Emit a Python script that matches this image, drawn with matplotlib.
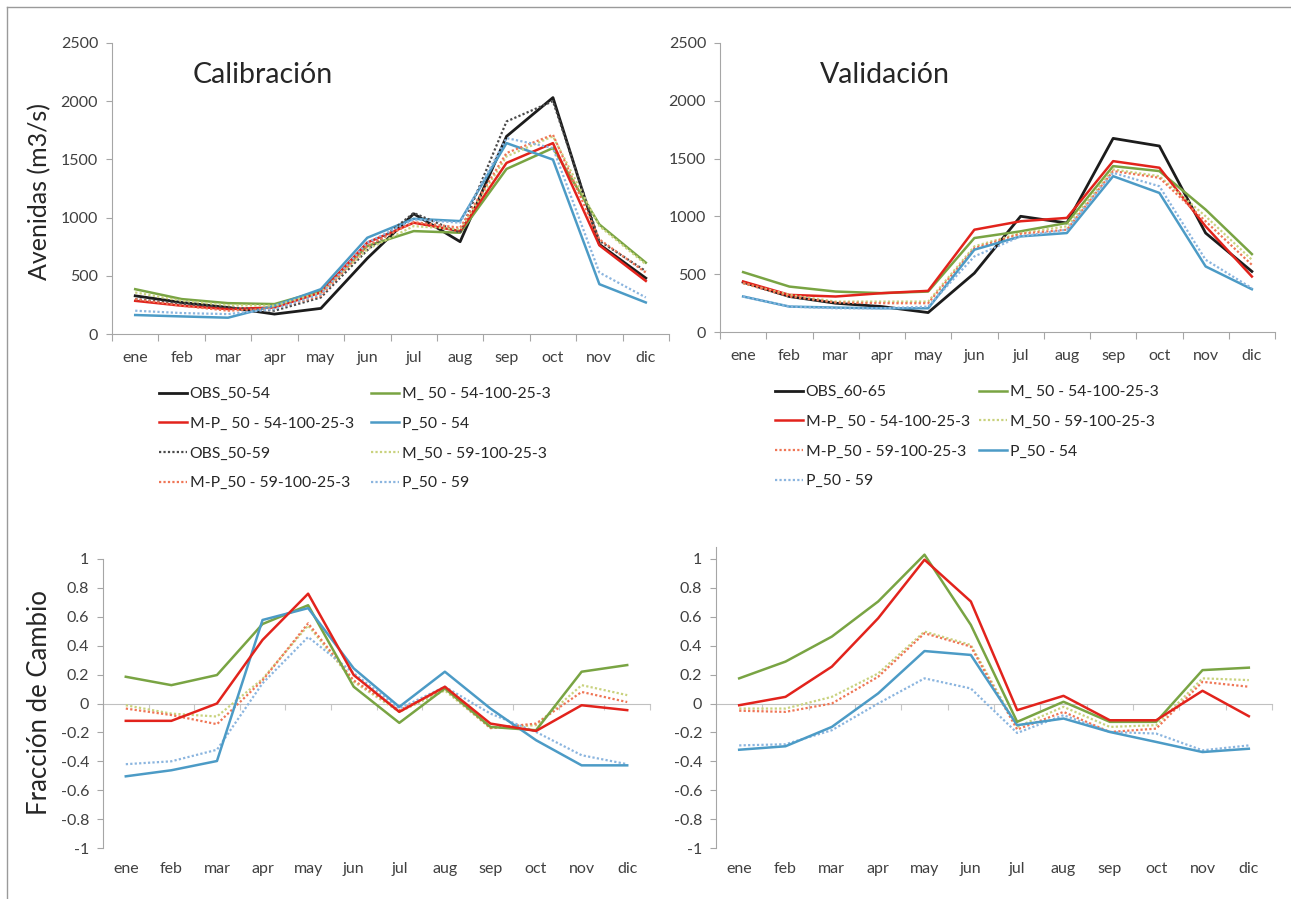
import numpy as np
import matplotlib
matplotlib.use('Agg')
import matplotlib.pyplot as plt
from matplotlib.lines import Line2D

plt.rcParams['font.family'] = ['Lato', 'DejaVu Sans']

months = ['ene', 'feb', 'mar', 'apr', 'may', 'jun', 'jul', 'aug', 'sep', 'oct', 'nov', 'dic']

# Calibración - avenidas (m3/s)
cal_obs_50_54 = [328, 271, 228, 171, 220, 650, 1033, 793, 1698, 2031, 770, 480]
cal_m_50_54 = [385, 300, 265, 257, 371, 756, 884, 870, 1418, 1598, 941, 613]
cal_mp_50_54 = [285, 243, 214, 228, 357, 785, 956, 884, 1470, 1640, 762, 456]
cal_p_50_54 = [163, 151, 140, 243, 385, 827, 990, 970, 1640, 1498, 428, 271]
cal_obs_50_59 = [300, 260, 230, 200, 314, 720, 1040, 870, 1826, 2000, 800, 540]
cal_m_50_59 = [357, 285, 248, 243, 357, 727, 927, 899, 1526, 1698, 927, 599]
cal_mp_50_59 = [300, 243, 200, 220, 328, 756, 962, 913, 1555, 1712, 813, 528]
cal_p_50_59 = [200, 180, 171, 214, 342, 785, 984, 956, 1683, 1598, 528, 314]

# Validación - avenidas (m3/s)
val_obs_60_65 = [431, 307, 249, 220, 168, 509, 1001, 943, 1675, 1609, 856, 524]
val_m_50_54 = [518, 393, 350, 336, 350, 813, 871, 943, 1435, 1392, 1059, 674]
val_mp_50_54 = [437, 321, 307, 336, 356, 885, 958, 987, 1478, 1421, 914, 480]
val_m_50_59 = [422, 321, 263, 263, 263, 741, 856, 914, 1406, 1348, 1001, 625]
val_mp_50_59 = [422, 307, 255, 249, 249, 726, 850, 885, 1392, 1334, 958, 581]
val_p_50_54 = [307, 220, 211, 205, 205, 712, 827, 856, 1348, 1203, 567, 370]
val_p_50_59 = [307, 220, 205, 205, 220, 654, 827, 885, 1377, 1261, 625, 379]

# Fracción de cambio - calibración
fc_cal_m_50_54 = [0.185, 0.127, 0.197, 0.55, 0.68, 0.116, -0.134, 0.104, -0.162, -0.185, 0.22, 0.266]
fc_cal_mp_50_54 = [-0.12, -0.12, 0.0, 0.44, 0.76, 0.197, -0.058, 0.116, -0.139, -0.19, -0.012, -0.046]
fc_cal_p_50_54 = [-0.504, -0.462, -0.398, 0.578, 0.66, 0.243, -0.023, 0.22, -0.035, -0.254, -0.428, -0.428]
fc_cal_m_50_59 = [-0.012, -0.07, -0.09, 0.17, 0.54, 0.15, -0.058, 0.09, -0.17, -0.15, 0.127, 0.058]
fc_cal_mp_50_59 = [-0.035, -0.08, -0.143, 0.16, 0.555, 0.16, -0.046, 0.104, -0.17, -0.139, 0.08, 0.01]
fc_cal_p_50_59 = [-0.42, -0.4, -0.32, 0.14, 0.46, 0.21, -0.035, 0.116, -0.07, -0.197, -0.358, -0.42]

# Fracción de cambio - validación
fc_val_m_50_54 = [0.174, 0.29, 0.463, 0.706, 1.03, 0.544, -0.127, 0.012, -0.127, -0.127, 0.231, 0.248]
fc_val_mp_50_54 = [-0.012, 0.046, 0.255, 0.59, 0.995, 0.706, -0.046, 0.053, -0.116, -0.116, 0.088, -0.088]
fc_val_p_50_54 = [-0.32, -0.296, -0.162, 0.07, 0.363, 0.336, -0.15, -0.104, -0.197, -0.266, -0.336, -0.313]
fc_val_m_50_59 = [-0.035, -0.035, 0.046, 0.208, 0.498, 0.405, -0.162, -0.023, -0.162, -0.15, 0.174, 0.162]
fc_val_mp_50_59 = [-0.05, -0.058, 0.0, 0.185, 0.486, 0.394, -0.18, -0.058, -0.197, -0.174, 0.15, 0.116]
fc_val_p_50_59 = [-0.29, -0.282, -0.185, 0.0, 0.174, 0.104, -0.204, -0.081, -0.197, -0.208, -0.324, -0.29]

# estilos de las series
DOT = (0, (1, 1))
st_obs54 = dict(color='#1c1c1c', lw=2.0, ls='-')
st_obs59 = dict(color='#4a4a4a', lw=1.6, ls=DOT)
st_m54 = dict(color='#79a443', lw=1.8, ls='-')
st_mp54 = dict(color='#e2231c', lw=1.8, ls='-')
st_p54 = dict(color='#4c9bc6', lw=1.8, ls='-')
st_m59 = dict(color='#c9d27e', lw=1.6, ls=DOT)
st_mp59 = dict(color='#ef7656', lw=1.6, ls=DOT)
st_p59 = dict(color='#8bb5df', lw=1.6, ls=DOT)

GRAY = '#a6a6a6'
TXT = '#404040'

W, H = 1291, 899
fig = plt.figure(figsize=(W / 100, H / 100), dpi=100)


def px_axes(left, top, right, bottom):
    return fig.add_axes([left / W, 1 - bottom / H, (right - left) / W, (bottom - top) / H])


def style_axes(ax, zero_axis=False):
    x = np.arange(len(months))
    ax.set_xlim(-0.5, len(months) - 0.5)
    for s in ['top', 'right']:
        ax.spines[s].set_visible(False)
    ax.spines['left'].set_color(GRAY)
    ax.spines['bottom'].set_color(GRAY)
    ax.set_xticks(np.arange(-0.5, len(months), 1))
    ax.set_xticklabels([])
    ax.set_xticks(x, minor=True)
    ax.set_xticklabels(months, minor=True)
    ax.tick_params(axis='x', which='minor', length=0, pad=12, labelsize=11.5, labelcolor=TXT)
    ax.tick_params(axis='x', which='major', length=5, color=GRAY)
    ax.tick_params(axis='y', length=4, color=GRAY, labelsize=11.5, labelcolor=TXT, pad=6)
    if zero_axis:
        ax.spines['bottom'].set_visible(False)
        ax.tick_params(axis='x', which='major', length=0)
        ax.tick_params(axis='x', which='minor', pad=10)
        sec = ax.secondary_xaxis(0, transform=ax.transData)
        sec.set_xticks(np.arange(-0.5, len(months), 1))
        sec.tick_params(axis='x', length=4, color='#c8c8c8', labelbottom=False)
        sec.spines['bottom'].set_color('#c0c0c0')


def col_legend(handles, x, y):
    fig.legend(handles=handles, loc='upper left', bbox_to_anchor=(x / W, 1 - y / H),
               frameon=False, borderpad=0, borderaxespad=0, handlelength=1.8,
               handletextpad=0.15, labelspacing=1.0, fontsize=11.3, labelcolor='#262626')


x = np.arange(len(months))

# ---- Calibración ----
ax1 = px_axes(112, 43, 669, 334)
ax1.set_ylim(0, 2500)
ax1.set_yticks(np.arange(0, 2501, 500))
style_axes(ax1)
h_obs54, = ax1.plot(x, cal_obs_50_54, label='OBS_50-54', **st_obs54)
h_m54, = ax1.plot(x, cal_m_50_54, label='M_ 50 - 54-100-25-3', **st_m54)
h_mp54, = ax1.plot(x, cal_mp_50_54, label='M-P_ 50 - 54-100-25-3', **st_mp54)
h_p54, = ax1.plot(x, cal_p_50_54, label='P_50 - 54', **st_p54)
h_obs59, = ax1.plot(x, cal_obs_50_59, label='OBS_50-59', **st_obs59)
h_m59, = ax1.plot(x, cal_m_50_59, label='M_50 - 59-100-25-3', **st_m59)
h_mp59, = ax1.plot(x, cal_mp_50_59, label='M-P_50 - 59-100-25-3', **st_mp59)
h_p59, = ax1.plot(x, cal_p_50_59, label='P_50 - 59', **st_p59)
ax1.text(0.145, 0.89, 'Calibración', transform=ax1.transAxes, fontsize=20.5,
         color='#262626', va='center', ha='left')
col_legend([h_obs54, h_mp54, h_obs59, h_mp59], 159, 387)
col_legend([h_m54, h_p54, h_m59, h_p59], 371, 387)

# ---- Validación ----
ax2 = px_axes(720, 43, 1275, 332)
ax2.set_ylim(0, 2500)
ax2.set_yticks(np.arange(0, 2501, 500))
style_axes(ax2)
v_obs, = ax2.plot(x, val_obs_60_65, label='OBS_60-65', **st_obs54)
v_m54, = ax2.plot(x, val_m_50_54, label='M_ 50 - 54-100-25-3', **st_m54)
v_mp54, = ax2.plot(x, val_mp_50_54, label='M-P_ 50 - 54-100-25-3', **st_mp54)
v_m59, = ax2.plot(x, val_m_50_59, label='M_50 - 59-100-25-3', **st_m59)
v_mp59, = ax2.plot(x, val_mp_50_59, label='M-P_50 - 59-100-25-3', **st_mp59)
v_p54, = ax2.plot(x, val_p_50_54, label='P_50 - 54', **st_p54)
v_p59, = ax2.plot(x, val_p_50_59, label='P_50 - 59', **st_p59)
ax2.text(0.18, 0.89, 'Validación', transform=ax2.transAxes, fontsize=20.5,
         color='#262626', va='center', ha='left')
col_legend([v_obs, v_mp54, v_mp59, v_p59], 775, 385)
col_legend([v_m54, v_m59, v_p54], 979, 385)

# ---- Fracción de cambio ----
fc_ticks = np.round(np.arange(-1, 1.01, 0.2), 1)
fc_labels = ['0' if t == 0 else f'{t:g}' for t in fc_ticks]

ax3 = px_axes(103, 559, 650, 848)
ax3.set_ylim(-1, 1)
ax3.set_yticks(fc_ticks)
ax3.set_yticklabels(fc_labels)
style_axes(ax3, zero_axis=True)
ax3.plot(x, fc_cal_m_50_59, **st_m59)
ax3.plot(x, fc_cal_mp_50_59, **st_mp59)
ax3.plot(x, fc_cal_p_50_59, **st_p59)
ax3.plot(x, fc_cal_m_50_54, **st_m54)
ax3.plot(x, fc_cal_p_50_54, **st_p54)
ax3.plot(x, fc_cal_mp_50_54, **st_mp54)

ax4 = px_axes(716, 559 - 0.08 * 144.5, 1272, 848)
ax4.set_ylim(-1, 1.08)
ax4.set_yticks(fc_ticks)
ax4.set_yticklabels(fc_labels)
style_axes(ax4, zero_axis=True)
ax4.plot(x, fc_val_m_50_59, **st_m59)
ax4.plot(x, fc_val_mp_50_59, **st_mp59)
ax4.plot(x, fc_val_p_50_59, **st_p59)
ax4.plot(x, fc_val_p_50_54, **st_p54)
ax4.plot(x, fc_val_m_50_54, **st_m54)
ax4.plot(x, fc_val_mp_50_54, **st_mp54)

# etiquetas de eje y
fig.text(40 / W, 1 - 191 / H, 'Avenidas (m3/s)', rotation=90, fontsize=18,
         color='#262626', ha='center', va='center')
fig.text(40 / W, 1 - 703 / H, 'Fracción de Cambio', rotation=90, fontsize=18.5,
         color='#262626', ha='center', va='center')

# marco
fig.add_artist(Line2D([7 / W, 1], [1 - 7 / H, 1 - 7 / H], color='#9a9a9a', lw=1))
fig.add_artist(Line2D([7 / W, 7 / W], [0, 1 - 7 / H], color='#9a9a9a', lw=1))

fig.savefig('out.png', dpi=100, facecolor='white')
